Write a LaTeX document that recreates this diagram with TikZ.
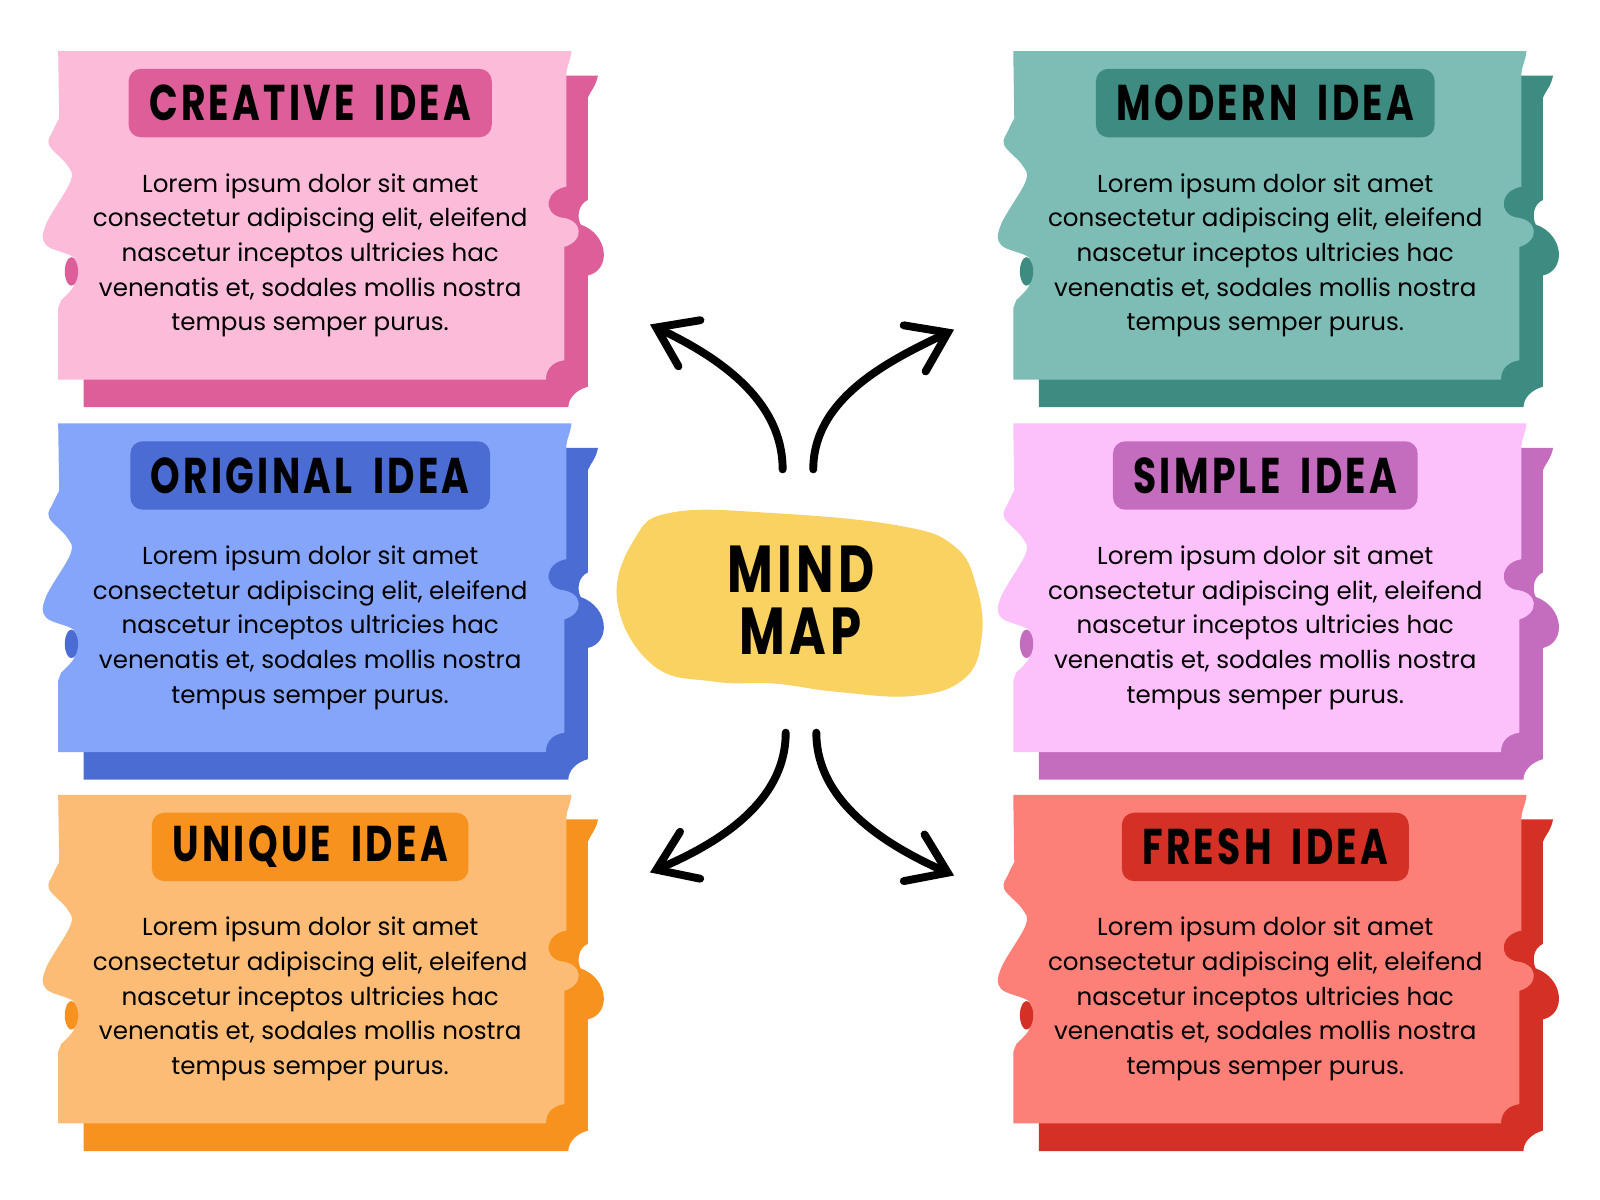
\documentclass[tikz,border=0pt]{standalone}
\usepackage{fontspec}
\setmainfont{Poppins}
\newfontfamily\tagfont{Poppins}[FakeStretch=0.75, LetterSpace=6.5, WordSpace=1.8]
\usetikzlibrary{positioning,arrows.meta}

\definecolor{creativeLight}{HTML}{FDBBDA}
\definecolor{creativeDark}{HTML}{DD5E98}
\definecolor{modernLight}{HTML}{7EBDB6}
\definecolor{modernDark}{HTML}{3E8B82}
\definecolor{originalLight}{HTML}{85A5FA}
\definecolor{originalDark}{HTML}{4A6CD3}
\definecolor{simpleLight}{HTML}{FCC0FA}
\definecolor{simpleDark}{HTML}{C46CBE}
\definecolor{uniqueLight}{HTML}{FDBC75}
\definecolor{uniqueDark}{HTML}{F8921E}
\definecolor{freshLight}{HTML}{FD8078}
\definecolor{freshDark}{HTML}{D53026}
\definecolor{mapYellow}{HTML}{F9D262}

\tikzstyle{tag}     = [rectangle, rounded corners=1.2mm, minimum height=6.7mm
                      , inner xsep=2mm, text=black
                      , font=\tagfont\bfseries\fontsize{14}{14}\selectfont]
\tikzstyle{payload} = [align=center, inner sep=0pt, text=black
                      , font=\fontsize{6.85}{9.65}\selectfont]
\tikzstyle{branch}  = [line width=2.2pt, line cap=round
                      , -{Straight Barb[length=3.6mm, width=5mm, line cap=round]}]

\newcommand{\lorem}{Lorem ipsum dolor sit amet\\consectetur adipiscing elit, eleifend\\nascetur inceptos ultricies hac\\venenatis et, sodales mollis nostra\\tempus semper purus.}

%% torn paper with its shadow: #1 top left corner, #2 paper colour, #3 shadow colour
\newcommand{\paper}[3]{%
  \begin{scope}[shift={#1}]
    \fill[#3] (25,24) -- (529,24) .. controls (527,35) and (521,40) .. (519,46)
      -- (519,146) .. controls (510,150) and (508,162) .. (512,170)
      .. controls (540,180) and (542,215) .. (519,220)
      -- (519,329) .. controls (508,332) and (500,340) .. (500,349) -- (25,349) -- cycle;
    \fill[#2] (0,0) -- (503,0) .. controls (502,10) and (498,16) .. (498,22)
      -- (498,133) .. controls (478,136) and (474,158) .. (492,163)
      .. controls (515,165) and (516,186) .. (496,192)
      -- (496,303) .. controls (482,305) and (478,314) .. (478,322) -- (0,322) -- (0,252)
      -- plot[smooth, tension=0.6] coordinates {(3,244) (15,231) (18,216) (15,202) (-12,190)
         (-12,170) (12,128) (9,112) (-9,92) (-5,78) (1,66)} -- cycle;
    \fill[#3] (13,216) ellipse [x radius=6.5, y radius=14];
  \end{scope}}

\begin{document}
\begin{tikzpicture}[x=0.01cm, y=-0.01cm]

\fill[white] (0,0) rectangle (1568,1176);
\useasboundingbox (0,0) rectangle (1568,1176);

\paper{(57,50)}{creativeLight}{creativeDark}
\paper{(993,50)}{modernLight}{modernDark}
\paper{(57,415)}{originalLight}{originalDark}
\paper{(993,415)}{simpleLight}{simpleDark}
\paper{(57,779)}{uniqueLight}{uniqueDark}
\paper{(993,779)}{freshLight}{freshDark}

%% Creative Node
\node [tag, fill=creativeDark] (Creative-Tag) at (304,101) {CREATIVE IDEA};
\node [payload, below=3.4mm of Creative-Tag] (Creative-Load) {\lorem};

%% Modern Node
\node [tag, fill=modernDark] (Modern-Tag) at (1240,101) {MODERN IDEA};
\node [payload, below=3.4mm of Modern-Tag] (Modern-Load) {\lorem};

%% Original Node
\node [tag, fill=originalDark] (Original-Tag) at (304,466) {ORIGINAL IDEA};
\node [payload, below=3.4mm of Original-Tag] (Original-Load) {\lorem};

%% Simple Node
\node [tag, fill=simpleDark] (Simple-Tag) at (1240,466) {SIMPLE IDEA};
\node [payload, below=3.4mm of Simple-Tag] (Simple-Load) {\lorem};

%% Unique Node
\node [tag, fill=uniqueDark] (Unique-Tag) at (304,830) {UNIQUE IDEA};
\node [payload, below=3.4mm of Unique-Tag] (Unique-Load) {\lorem};

%% Fresh Node
\node [tag, fill=freshDark] (Fresh-Tag) at (1240,830) {FRESH IDEA};
\node [payload, below=3.4mm of Fresh-Tag] (Fresh-Load) {\lorem};

%% Centre
\fill[mapYellow] plot[smooth cycle, tension=0.7] coordinates {(605,590) (622,528) (660,502)
  (760,503) (880,515) (935,535) (957,575) (962,625) (945,665) (895,682) (820,678)
  (760,670) (700,668) (640,652)};
\node [align=center, font=\tagfont\bfseries\fontsize{18.5}{17.4}\selectfont]
  (MindMap) at (785,588) {MIND\\MAP};

%% Branches
\coordinate (Map-NW) at (767,460);
\coordinate (Map-NE) at (797,460);
\coordinate (Map-SW) at (770,718);
\coordinate (Map-SE) at (800,718);
\coordinate (Creative-End) at (637,318);
\coordinate (Modern-End) at (935,323);
\coordinate (Unique-End) at (637,855);
\coordinate (Fresh-End) at (935,858);

\draw [branch] (Map-NW) .. controls (767,390) and (700,348) .. (Creative-End);
\draw [branch] (Map-NE) .. controls (797,390) and (872,353) .. (Modern-End);
\draw [branch] (Map-SW) .. controls (770,788) and (700,828) .. (Unique-End);
\draw [branch] (Map-SE) .. controls (800,788) and (872,830) .. (Fresh-End);

\end{tikzpicture}
\end{document}
